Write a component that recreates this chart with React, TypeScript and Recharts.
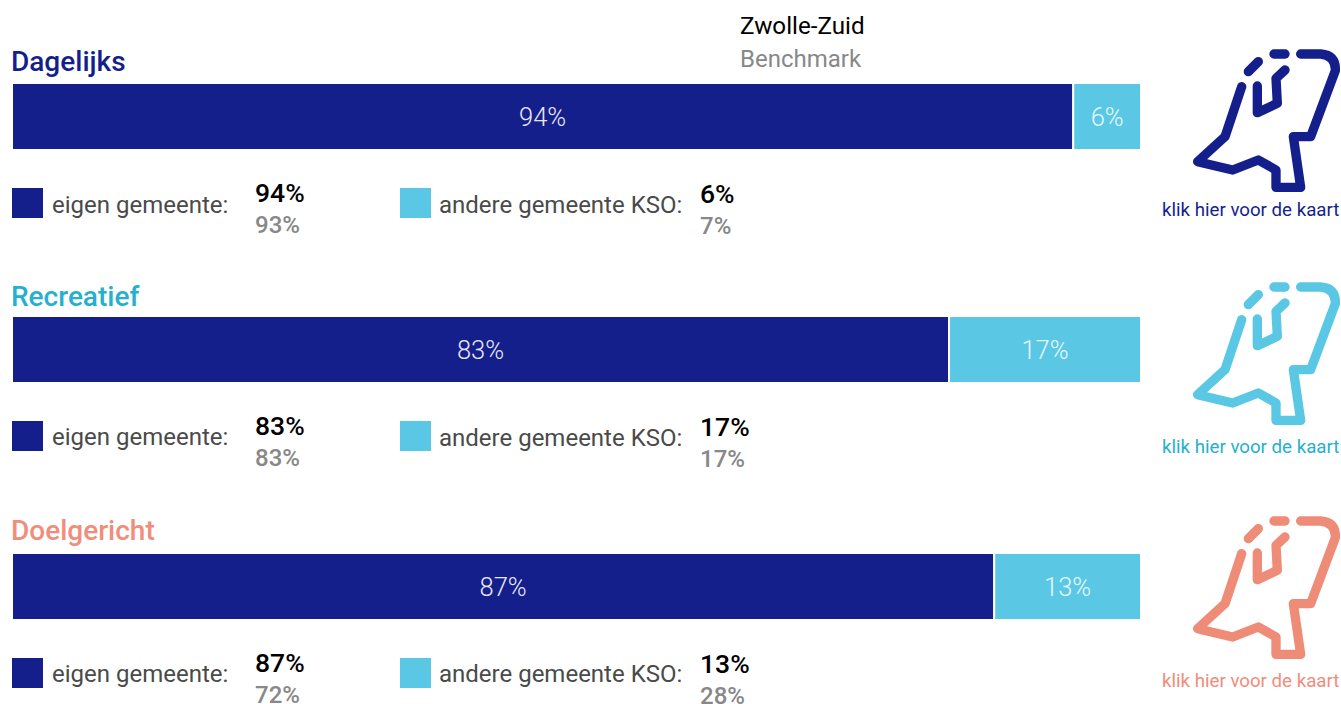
import { BarChart, Bar, XAxis, YAxis, LabelList } from "recharts";

const titles = ["Dagelijks", "Recreatief", "Doelgericht"];
const titleColors = ["#151f8c", "#26afce", "#f08d7b"];
const iconColors = ["#151f8c", "#5ac8e4", "#ef8c78"];
const eigen = [94, 83, 87];
const andere = [6, 17, 13];
const eigenBench = [93, 83, 72];
const andereBench = [7, 17, 28];

// layout per block: the blocks are not spaced quite evenly in the original
const barTops = [84, 317, 554];
const titleTops = [48, 283, 517];
const iconTops = [40, 273, 507];
const linkTops = [201, 438, 672];
const eigenDy = [1, 0, 0];
const andereDy = [1, 1, 0];

const NAVY = "#151f8c";
const CYAN = "#5ac8e4";
const FONT = "Roboto, sans-serif";

const pct = (v: any) => `${v}%`;

const Txt = ({ x, y, size, color, weight = 400, children }: any) => (
  <div
    style={{
      position: "absolute",
      left: x,
      top: y,
      fontSize: size,
      color,
      fontWeight: weight,
      lineHeight: 1,
      whiteSpace: "nowrap",
    }}
  >
    {children}
  </div>
);

const Swatch = ({ x, y, color }: any) => (
  <div style={{ position: "absolute", left: x, top: y, width: 31, height: 30, background: color }} />
);

const MapIcon = ({ top, color }: any) => (
  <svg
    width={191}
    height={160}
    viewBox="0 0 573 480"
    style={{ position: "absolute", left: 1150, top }}
    fill="none"
    stroke={color}
    strokeWidth={28}
    strokeLinecap="round"
    strokeLinejoin="round"
  >
    <path d="M452 42 L512 42 Q558 46 556 92 L482 290 L430 290 L452 442 L378 442 L378 390 L325 360 L248 390 L143 365 L225 290 L275 140" />
    <path d="M405 90 L378 115 L382 190 L322 218 L322 138" />
    <path d="M295 95 L325 65" />
    <path d="M372 42 L405 42" />
  </svg>
);

const Block = ({ i }: { i: number }) => {
  const top = barTops[i];
  const data = [{ name: titles[i], eigen: eigen[i], andere: andere[i] }];
  return (
    <>
      <Txt x={11} y={titleTops[i]} size={28} color={titleColors[i]} weight={500}>
        {titles[i]}
      </Txt>
      <div style={{ position: "absolute", left: 12, top: top - 1 }}>
        <BarChart
          width={1129}
          height={67}
          data={data}
          layout="vertical"
          barCategoryGap={0}
          margin={{ top: 0, right: 0, bottom: 0, left: 0 }}
        >
          <XAxis type="number" domain={[0, 100]} hide />
          <YAxis type="category" dataKey="name" hide />
          <Bar dataKey="eigen" stackId="a" fill={NAVY} stroke="#fff" strokeWidth={2} isAnimationActive={false}>
            <LabelList
              dataKey="eigen"
              position="center"
              formatter={pct}
              fill="#e8e8f4"
              fontSize={25.5}
              fontWeight={300}
              fontFamily={FONT}
            />
          </Bar>
          <Bar dataKey="andere" stackId="a" fill={CYAN} stroke="#fff" strokeWidth={2} isAnimationActive={false}>
            <LabelList
              dataKey="andere"
              position="center"
              formatter={pct}
              fill="#e6f7fc"
              fontSize={25.5}
              fontWeight={300}
              fontFamily={FONT}
            />
          </Bar>
        </BarChart>
      </div>
      <Swatch x={12} y={top + 104} color={NAVY} />
      <Txt x={52} y={top + 108 + eigenDy[i]} size={24} color="#4a4a4a">
        eigen gemeente:
      </Txt>
      <Txt x={255} y={top + 95.5} size={26.5} color="#000" weight={500}>
        {eigen[i]}%
      </Txt>
      <Txt x={255} y={top + 129} size={24} color="#888" weight={500}>
        {eigenBench[i]}%
      </Txt>
      <Swatch x={400} y={top + 104} color={CYAN} />
      <Txt x={439} y={top + 108 + andereDy[i]} size={24} color="#4a4a4a">
        andere gemeente KSO:
      </Txt>
      <Txt x={700} y={top + 96.5} size={26.5} color="#000" weight={500}>
        {andere[i]}%
      </Txt>
      <Txt x={700} y={top + 130} size={24} color="#888" weight={500}>
        {andereBench[i]}%
      </Txt>
      <MapIcon top={iconTops[i]} color={iconColors[i]} />
      <Txt x={1162} y={linkTops[i]} size={18.7} color={titleColors[i]}>
        klik hier voor de kaart
      </Txt>
    </>
  );
};

export default function App() {
  return (
    <div style={{ position: "absolute", left: 0, top: 0, width: 1341, height: 704, fontFamily: FONT, background: "#fff" }}>
      <Txt x={740} y={14} size={24.2} color="#000">
        Zwolle-Zuid
      </Txt>
      <Txt x={740} y={47} size={24} color="#888">
        Benchmark
      </Txt>
      {titles.map((_, i) => (
        <Block key={i} i={i} />
      ))}
    </div>
  );
}
